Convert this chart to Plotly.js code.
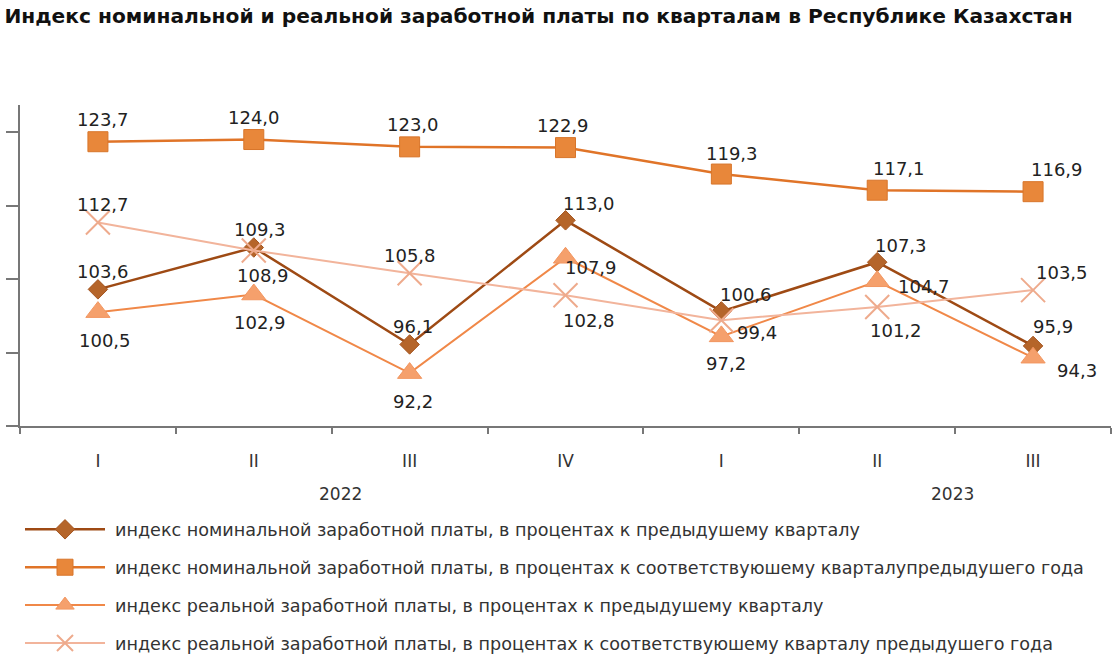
<!DOCTYPE html>
<html>
<head>
<meta charset="utf-8">
<script src="https://cdn.plot.ly/plotly-3.0.1.min.js"></script>
<style>html,body{margin:0;padding:0;background:#fff;}#chart{width:1120px;height:658px;}</style>
</head>
<body>
<div id="chart"></div>
<script>
// ---- data ----
const quarters = ["I", "II", "III", "IV", "I", "II", "III"];
const years = ["2022", "2023"];
const nominalPrevQuarter = [103.6, 109.3, 96.1, 113.0, 100.6, 107.3, 95.9];
const nominalPrevYear = [123.7, 124.0, 123.0, 122.9, 119.3, 117.1, 116.9];
const realPrevQuarter = [100.5, 102.9, 92.2, 107.9, 97.2, 104.7, 94.3];
const realPrevYear = [112.7, 108.9, 105.8, 102.8, 99.4, 101.2, 103.5];
const seriesNames = [
  "индекс номинальной заработной платы, в процентах к предыдушему кварталу",
  "индекс номинальной заработной платы, в процентах к соответствуюшему кварталупредыдушего года",
  "индекс реальной заработной платы, в процентах к предыдушему кварталу",
  "индекс реальной заработной платы, в процентах к соответствуюшему кварталу предыдушего года"
];

// ---- styling ----
const idx = quarters.map((q, i) => i);
const LFONT = "DejaVu Sans, sans-serif";
const styles = [
  {line: "#9E4A14", marker: {symbol: "diamond", size: 15, color: "#B5652A", line: {color: "#A45520", width: 1}}, width: 2.5},
  {line: "#E07428", marker: {symbol: "square", size: 20, color: "#E8873A", line: {color: "#D8752A", width: 1}}, width: 2.5},
  {line: "#F08848", marker: {symbol: "triangle-up", size: 21, color: "#F5A06C", line: {color: "#F29660", width: 1}}, width: 2},
  {line: "#F2B49B", marker: {symbol: "x-thin-open", size: 24, color: "#EEAA8C", line: {color: "#EEAA8C", width: 2}}, width: 2}
];
const allSeries = [nominalPrevQuarter, nominalPrevYear, realPrevQuarter, realPrevYear];
// label offsets in px (dx right, dy down)
const labelOffsets = [
  [[5,-18],[6,-18],[3,-18],[23,-17],[25,-17],[24,-17],[20,-19]],
  [[5,-22],[0,-22],[3,-22],[-3,-22],[11,-21],[22,-22],[24,-22]],
  [[7,28],[6,28],[3,28],[25,10],[5,27],[47,5],[44,13]],
  [[5,-18],[9,25],[0,-18],[23,25],[36,12],[19,23],[29,-18]]
];

const traces = allSeries.map((vals, s) => ({
  type: "scatter",
  mode: "lines+markers",
  x: idx,
  y: vals,
  name: seriesNames[s],
  legendgroup: "g" + s,
  line: {color: styles[s].line, width: styles[s].width},
  marker: styles[s].marker,
  cliponaxis: false,
  hoverinfo: "skip"
}));

const annotations = [];
allSeries.forEach((vals, s) => {
  vals.forEach((v, i) => {
    annotations.push({
      x: i, y: v, xref: "x", yref: "y",
      text: v.toFixed(1).replace(".", ","),
      showarrow: false,
      xanchor: "center", yanchor: "middle",
      xshift: labelOffsets[s][i][0],
      yshift: -labelOffsets[s][i][1],
      font: {family: LFONT, size: 18, color: "#222"}
    });
  });
});
const yearPos = [0.294, 0.855];
years.forEach((yr, k) => {
  annotations.push({
    x: yearPos[k], y: 0, xref: "paper", yref: "paper",
    text: yr, showarrow: false, xanchor: "center", yanchor: "middle", yshift: -68,
    font: {family: LFONT, size: 17, color: "#333"}
  });
});

const boundaries = [];
for (let i = 0; i <= quarters.length; i++) boundaries.push(i - 0.5);

const layout = {
  width: 1120, height: 658,
  paper_bgcolor: "#fff", plot_bgcolor: "#fff",
  margin: {l: 20, r: 9, t: 105, b: 232, autoexpand: false},
  title: {
    text: "<b>Индекс номинальной и реальной заработной платы по кварталам в Республике Казахстан</b>",
    x: 0.004, xanchor: "left", xref: "container",
    y: 0.976, yanchor: "middle", yref: "container",
    font: {family: "DejaVu Sans, sans-serif", size: 20.2, color: "#111"}
  },
  xaxis: {
    range: [-0.5, quarters.length - 0.5],
    tickmode: "array", tickvals: idx, ticktext: quarters,
    ticks: "", showgrid: false, zeroline: false,
    showline: true, linecolor: "#777", linewidth: 2,
    tickfont: {family: LFONT, size: 17, color: "#333"},
    ticklabelstandoff: 19,
    minor: {tickmode: "array", tickvals: boundaries, ticks: "outside", ticklen: 6, tickwidth: 2, tickcolor: "#777", showgrid: false}
  },
  yaxis: {
    range: [85, 128.7],
    tickmode: "array", tickvals: [85, 95, 105, 115, 125],
    showticklabels: false, ticks: "outside", ticklen: 12, tickwidth: 2, tickcolor: "#777",
    showgrid: false, zeroline: false,
    showline: true, linecolor: "#777", linewidth: 2
  },
  showlegend: true,
  legend: {
    orientation: "v",
    x: (25 - 20) / 1091, xanchor: "left",
    y: -0.266, yanchor: "top",
    font: {family: LFONT, size: 17.6, color: "#333"},
    traceorder: "grouped",
    tracegroupgap: 12,
    itemwidth: 80,
    bgcolor: "rgba(0,0,0,0)"
  },
  annotations: annotations
};

Plotly.newPlot("chart", traces, layout, {displayModeBar: false, staticPlot: true}).then(gd => {
  // lengthen legend symbol lines to match reference
  gd.querySelectorAll(".legend .traces").forEach(tr => {
    tr.querySelectorAll(".legendlines path").forEach(p => p.setAttribute("d", "M0,0h80"));
    tr.querySelectorAll(".legendsymbols path.scatterpts").forEach(p => {
      p.setAttribute("transform", "translate(40,0)");
    });
  });
});
</script>
</body>
</html>
